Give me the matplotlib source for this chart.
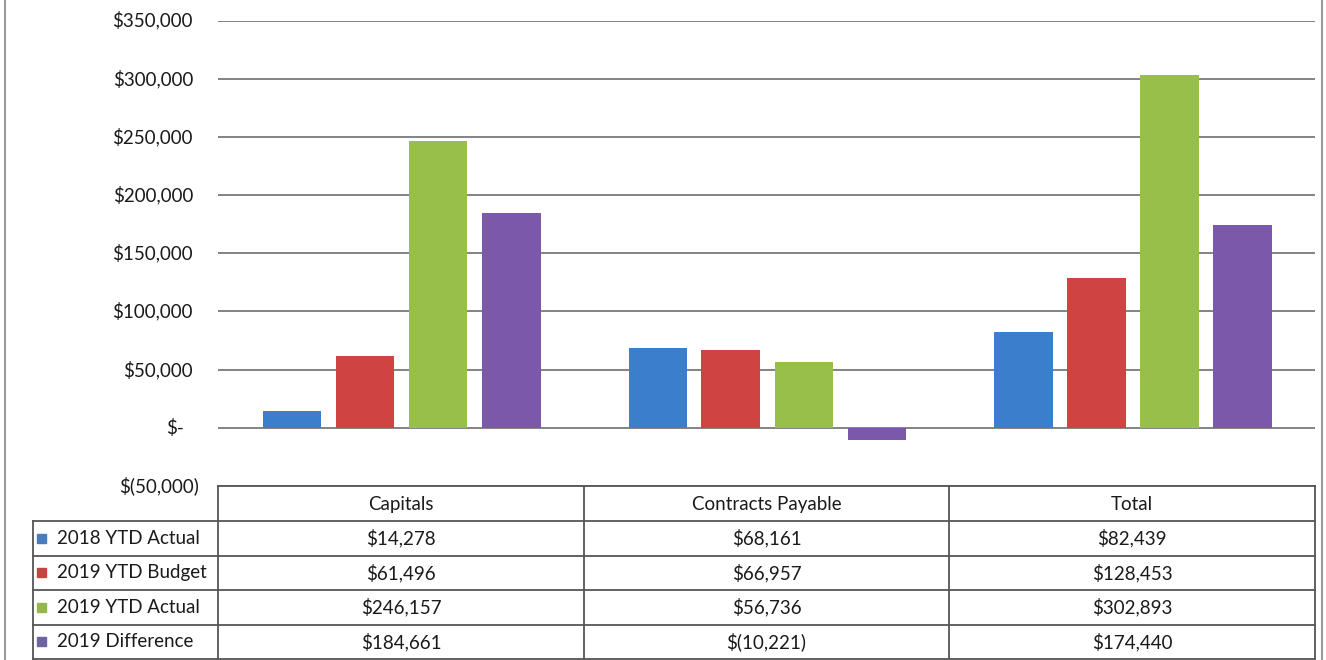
import numpy as np
import matplotlib.pyplot as plt
from matplotlib.lines import Line2D
from matplotlib.patches import Rectangle

plt.rcParams['font.family'] = ['Lato', 'DejaVu Sans']

categories = ['Capitals', 'Contracts Payable', 'Total']
series = ['2018 YTD Actual', '2019 YTD Budget', '2019 YTD Actual', '2019 Difference']
actual_2018 = [14278, 68161, 82439]
budget_2019 = [61496, 66957, 128453]
actual_2019 = [246157, 56736, 302893]
difference_2019 = [184661, -10221, 174440]
values = [actual_2018, budget_2019, actual_2019, difference_2019]
colors = ['#3b7ecb', '#cf4343', '#97bf4a', '#7c58aa']
key_colors = ['#4a7dbb', '#c8443f', '#94b84e', '#6e64a0']
yticks = [-50000, 0, 50000, 100000, 150000, 200000, 250000, 300000, 350000]


def acct(v):
    # excel accounting format
    if v > 0:
        return '${:,.0f}'.format(v)
    if v < 0:
        return '$({:,.0f})'.format(-v)
    return '$-'


W, H = 1326, 660
fig = plt.figure(figsize=(W / 100, H / 100), dpi=100)
fig.patch.set_facecolor('white')

x0, x1 = 218, 1315
ytop, ybot = 20.5, 486
ax = fig.add_axes([x0 / W, 1 - ybot / H, (x1 - x0) / W, (ybot - ytop) / H])
ax.set_xlim(-0.5, 2.5)
ax.set_ylim(-50000, 350000)
for s in ax.spines.values():
    s.set_visible(False)
ax.set_yticks(yticks)
ax.yaxis.grid(True, color='#7a7a7a', linewidth=1.3)
ax.set_axisbelow(True)
ax.tick_params(left=False, bottom=False, labelleft=False, labelbottom=False)

x = np.arange(len(categories))
offsets = [-0.297, -0.098, 0.102, 0.302]
for i in range(len(series)):
    ax.bar(x + offsets[i], values[i], width=0.16, color=colors[i], zorder=3)

# y labels, accounting alignment
ytr = ax.get_yaxis_transform()
fs = 13.5
for t in yticks:
    lab = acct(t)
    if t > 0:
        dx = -25
    elif t == 0:
        dx = -34
    else:
        dx = -19
    ax.text(dx / (x1 - x0), t, lab, transform=ytr, ha='right', va='center',
            fontsize=fs, color='#1a1a1a')

# data table
tab = fig.add_axes([0, 0, 1, 1])
tab.set_xlim(0, W)
tab.set_ylim(H, 0)
tab.axis('off')
lc = '#555555'
cols = [33, 218, 584, 949, 1315]
rows = [486, 521, 555.5, 590, 624.5, 659]
# horizontal lines
tab.add_line(Line2D([cols[1], cols[-1]], [rows[0], rows[0]], color=lc, lw=1.3))
for r in rows[1:]:
    tab.add_line(Line2D([cols[0], cols[-1]], [r, r], color=lc, lw=1.3))
# vertical lines
tab.add_line(Line2D([cols[0], cols[0]], [rows[1], H], color=lc, lw=1.3))
for c in cols[1:]:
    tab.add_line(Line2D([c, c], [rows[0], H], color=lc, lw=1.3))

for j, cat in enumerate(categories):
    cx = (cols[j + 1] + cols[j + 2]) / 2
    tab.text(cx, (rows[0] + rows[1]) / 2 + 1, cat, ha='center', va='center',
             fontsize=fs, color='#1a1a1a')
    for i in range(len(series)):
        cy = (rows[i + 1] + rows[i + 2]) / 2
        tab.text(cx, cy, acct(values[i][j]), ha='center', va='center',
                 fontsize=fs, color='#1a1a1a')

for i, name in enumerate(series):
    cy = (rows[i + 1] + rows[i + 2]) / 2
    tab.add_patch(Rectangle((37, cy - 4.5), 9, 9, color=key_colors[i]))
    tab.text(57, cy, name, ha='left', va='center', fontsize=fs, color='#1a1a1a')

# outer chart border
tab.add_line(Line2D([5, 5], [0, H], color='#9a9a9a', lw=1.5))
tab.add_line(Line2D([1322, 1322], [0, H], color='#9a9a9a', lw=1.5))

plt.savefig('out.png', dpi=100)
